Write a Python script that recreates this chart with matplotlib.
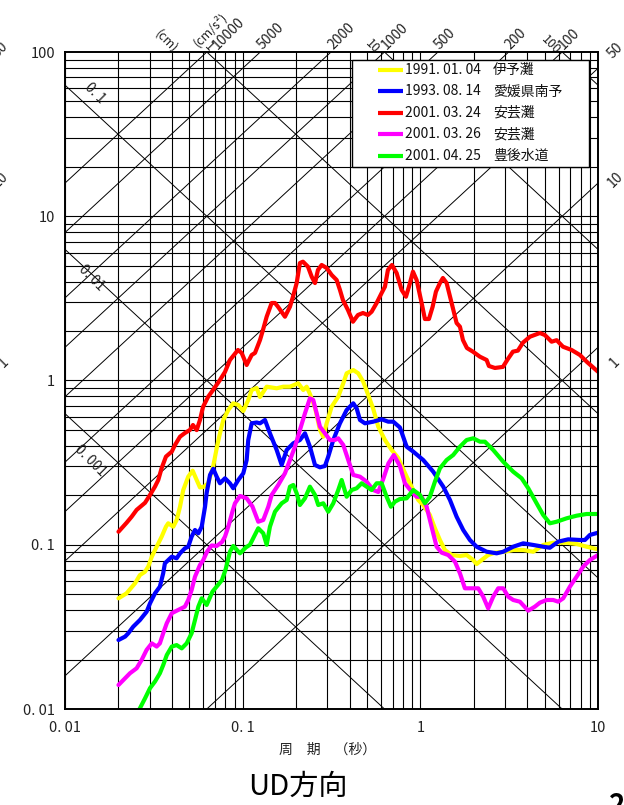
import numpy as np
import matplotlib
matplotlib.use("Agg")
import matplotlib.pyplot as plt
from matplotlib.patches import Rectangle
from matplotlib.ticker import NullLocator, FixedLocator, FixedFormatter

plt.rcParams['font.family'] = ['Noto Sans CJK JP', 'DejaVu Sans']

# ---------------------------------------------------------------
# Velocity response spectra, UD component (period [s], Sv [kine])
# ---------------------------------------------------------------
event_dates = ["1991. 01. 04", "1993. 08. 14", "2001. 03. 24", "2001. 03. 26", "2001. 04. 25"]
event_areas = ["伊予灘", "愛媛県南予", "安芸灘", "安芸灘", "豊後水道"]
event_colors = ["#ffff00", "#0000ff", "#ff0000", "#ff00ff", "#00ff00"]

period_1991 = [0.020, 0.0222, 0.0248, 0.0264, 0.0282, 0.0294, 0.0308, 0.0328, 0.0350, 0.0370,
               0.0381, 0.0407, 0.0425, 0.0444, 0.0463, 0.0494, 0.0523, 0.0551, 0.0575, 0.0606,
               0.0640, 0.0683, 0.0717, 0.0745, 0.0778, 0.0830, 0.0885, 0.0945, 0.1008, 0.1075,
               0.1124, 0.1199, 0.1252, 0.1365, 0.1554, 0.1692, 0.1846, 0.2055, 0.2193, 0.2292,
               0.2391, 0.2553, 0.2723, 0.2842, 0.297, 0.3169, 0.3451, 0.3683, 0.3848, 0.4193,
               0.4473, 0.4772, 0.509, 0.5433, 0.5798, 0.6322, 0.6895, 0.7508, 0.8375, 0.9123,
               0.9732, 1.038, 1.132, 1.208, 1.289, 1.375, 1.50, 1.671, 1.822, 1.985,
               2.074, 2.213, 2.41, 2.629, 2.993, 3.333, 3.795, 4.32, 4.915, 5.597,
               6.66, 7.58, 8.63, 10.0]
sv_1991 = [0.0472, 0.0506, 0.0583, 0.0654, 0.0685, 0.0735, 0.0846, 0.0973, 0.112, 0.1288,
           0.1351, 0.1288, 0.1415, 0.1705, 0.2154, 0.2597, 0.2824, 0.2479, 0.2232, 0.2257,
           0.2367, 0.3016, 0.3954, 0.477, 0.575, 0.6613, 0.7264, 0.7093, 0.652, 0.7608,
           0.8754, 0.9002, 0.7934, 0.917, 0.8965, 0.917, 0.917, 0.962, 0.875, 0.917,
           0.8276, 0.6848, 0.4995, 0.4548, 0.5488, 0.6926, 0.797, 0.962, 1.106, 1.158,
           1.106, 0.983, 0.816, 0.6707, 0.5232, 0.4342, 0.3775, 0.3375, 0.2597, 0.2154,
           0.1873, 0.1746, 0.1518, 0.126, 0.1069, 0.0929, 0.0866, 0.0854, 0.0866, 0.0807,
           0.0763, 0.0807, 0.0866, 0.0895, 0.0907, 0.0929, 0.0929, 0.0907, 0.0997, 0.1029,
           0.1029, 0.1011, 0.0973, 0.0938]

period_1993 = [0.020, 0.0218, 0.0227, 0.0242, 0.0264, 0.0288, 0.0301, 0.0321, 0.0342, 0.0357,
               0.0365, 0.0399, 0.0425, 0.0444, 0.0473, 0.0494, 0.0516, 0.0539, 0.0563, 0.0588,
               0.0614, 0.0627, 0.0655, 0.0683, 0.0714, 0.0745, 0.0795, 0.0848, 0.0885, 0.0945,
               0.1008, 0.1053, 0.1075, 0.1124, 0.1199, 0.1252, 0.1335, 0.1424, 0.1554, 0.1658,
               0.1769, 0.1927, 0.210, 0.2242, 0.2391, 0.2553, 0.2723, 0.2905, 0.3032, 0.3236,
               0.3528, 0.3848, 0.4193, 0.438, 0.4573, 0.4877, 0.5433, 0.6056, 0.6596, 0.704,
               0.7677, 0.8375, 0.9123, 1.038, 1.182, 1.346, 1.468, 1.60, 1.743, 1.901,
               2.074, 2.361, 2.688, 2.928, 3.333, 3.795, 4.32, 4.915, 5.36, 5.97,
               6.80, 7.91, 8.44, 9.0, 10.0]
sv_1993 = [0.0263, 0.0276, 0.0289, 0.0317, 0.0348, 0.0391, 0.0440, 0.0506, 0.0556, 0.0670,
           0.0771, 0.0846, 0.0827, 0.0887, 0.0951, 0.0973, 0.112, 0.1230, 0.1174, 0.1288,
           0.1705, 0.2066, 0.266, 0.290, 0.2597, 0.2367, 0.2539, 0.2367, 0.2207, 0.2479,
           0.2723, 0.328, 0.4342, 0.5488, 0.555, 0.5488, 0.575, 0.477, 0.3775, 0.3059,
           0.3775, 0.4147, 0.4342, 0.477, 0.3954, 0.3059, 0.2961, 0.3016, 0.344, 0.4342,
           0.5488, 0.6613, 0.7264, 0.677, 0.575, 0.5488, 0.5615, 0.5806, 0.5615, 0.5615,
           0.5175, 0.3954, 0.369, 0.328, 0.2784, 0.2257, 0.1873, 0.1482, 0.1230, 0.1069,
           0.0973, 0.0907, 0.0887, 0.0907, 0.0973, 0.1020, 0.0997, 0.0973, 0.0959, 0.1044,
           0.1079, 0.1069, 0.1069, 0.1147, 0.1184]

period_20010324 = [0.020, 0.0222, 0.0237, 0.0253, 0.0282, 0.0301, 0.0321, 0.0335, 0.0350, 0.0370,
                   0.0399, 0.0416, 0.0444, 0.0473, 0.0505, 0.0525, 0.0551, 0.0575, 0.0598, 0.0638,
                   0.0681, 0.0745, 0.0795, 0.0848, 0.0941, 0.0987, 0.1053, 0.1124, 0.1173, 0.1252,
                   0.1301, 0.1365, 0.1456, 0.152, 0.158, 0.173, 0.1846, 0.1919, 0.2014, 0.210,
                   0.2184, 0.2331, 0.2445, 0.2553, 0.2653, 0.2784, 0.297, 0.3169, 0.3381, 0.3528,
                   0.3667, 0.3913, 0.4176, 0.4455, 0.4753, 0.507, 0.532, 0.5676, 0.6056, 0.6322,
                   0.657, 0.692, 0.7355, 0.785, 0.83, 0.863, 0.909, 0.953, 1.017, 1.061,
                   1.118, 1.173, 1.224, 1.289, 1.340, 1.406, 1.50, 1.60, 1.671, 1.737,
                   1.829, 1.977, 2.165, 2.361, 2.432, 2.629, 2.916, 3.11, 3.32, 3.54,
                   3.78, 4.14, 4.71, 5.02, 5.48, 5.85, 6.35, 7.10, 7.91, 8.63, 10.0]
sv_20010324 = [0.120, 0.136, 0.148, 0.163, 0.180, 0.201, 0.226, 0.248, 0.293, 0.344,
               0.369, 0.405, 0.455, 0.479, 0.500, 0.536, 0.499, 0.575, 0.690, 0.793,
               0.875, 1.007, 1.127, 1.333, 1.534, 1.471, 1.243, 1.430, 1.471, 1.764,
               2.030, 2.446, 2.964, 2.964, 2.814, 2.446, 2.814, 3.237, 3.923, 5.19,
               5.29, 4.93, 4.29, 3.92, 4.71, 5.05, 4.84, 4.39, 4.09, 3.56,
               3.09, 2.687, 2.28, 2.505, 2.576, 2.505, 2.624, 2.964, 3.41, 3.725,
               4.71, 5.05, 4.51, 3.56, 3.237, 3.725, 4.60, 4.09, 2.964, 2.368,
               2.368, 2.814, 3.473, 3.92, 4.21, 3.92, 2.964, 2.239, 2.126, 1.764,
               1.577, 1.498, 1.396, 1.333, 1.226, 1.192, 1.21, 1.352, 1.498, 1.52,
               1.70, 1.848, 1.946, 1.892, 1.723, 1.76, 1.606, 1.534, 1.430, 1.302, 1.131]

period_20010326 = [0.020, 0.0218, 0.0232, 0.0253, 0.0270, 0.0288, 0.0308, 0.0328, 0.0342, 0.0357,
                   0.0374, 0.0399, 0.0434, 0.0473, 0.0494, 0.0516, 0.0539, 0.0575, 0.0600, 0.0630,
                   0.0669, 0.0714, 0.0765, 0.0795, 0.0830, 0.0876, 0.0905, 0.0966, 0.1053, 0.1135,
                   0.1224, 0.1306, 0.1394, 0.1456, 0.1586, 0.173, 0.1846, 0.197, 0.210, 0.2242,
                   0.2391, 0.2496, 0.2609, 0.2723, 0.2905, 0.3099, 0.3306, 0.3451, 0.3683, 0.3929,
                   0.4193, 0.4573, 0.4986, 0.5433, 0.5798, 0.6183, 0.6615, 0.710, 0.7677, 0.819,
                   0.8935, 0.953, 1.017, 1.085, 1.132, 1.182, 1.235, 1.318, 1.435, 1.566,
                   1.671, 1.782, 1.944, 2.118, 2.259, 2.41, 2.572, 2.744, 2.928, 3.124,
                   3.333, 3.634, 4.05, 4.415, 4.71, 5.137, 5.597, 5.97, 6.37, 6.95,
                   7.58, 8.25, 9.0, 10.0]
sv_20010326 = [0.0140, 0.0154, 0.0165, 0.0177, 0.0199, 0.0229, 0.0251, 0.0240, 0.0251, 0.0289,
               0.0333, 0.0383, 0.0401, 0.0420, 0.0461, 0.0530, 0.0639, 0.0753, 0.0807, 0.0907,
               0.0990, 0.0983, 0.1039, 0.112, 0.1288, 0.1594, 0.1788, 0.1981, 0.1918, 0.1710,
               0.1381, 0.1415, 0.1705, 0.201, 0.2311, 0.2723, 0.328, 0.3954, 0.4995, 0.6314,
               0.7792, 0.7608, 0.6314, 0.5232, 0.477, 0.4342, 0.4342, 0.4447, 0.405, 0.328,
               0.266, 0.2597, 0.2421, 0.2154, 0.2095, 0.2514, 0.3132, 0.3519, 0.3016, 0.2367,
               0.2104, 0.1961, 0.1961, 0.1705, 0.1415, 0.1174, 0.0973, 0.0895, 0.0866, 0.0789,
               0.0670, 0.0543, 0.0543, 0.0543, 0.0483, 0.0410, 0.0483, 0.0543, 0.0543, 0.0483,
               0.0461, 0.0450, 0.0397, 0.0420, 0.0444, 0.0461, 0.0461, 0.0450, 0.0472, 0.0556,
               0.0639, 0.0735, 0.0807, 0.0866]

period_20010425 = [0.020, 0.0264, 0.0282, 0.0301, 0.0321, 0.0342, 0.0357, 0.0374, 0.0399, 0.0425,
                   0.0454, 0.0484, 0.0516, 0.0539, 0.0563, 0.0588, 0.0627, 0.0676, 0.0726, 0.0765,
                   0.0803, 0.0848, 0.0885, 0.0966, 0.1041, 0.1099, 0.1158, 0.1224, 0.1306, 0.1365,
                   0.1424, 0.152, 0.1658, 0.1769, 0.1846, 0.1927, 0.2014, 0.210, 0.2242, 0.2391,
                   0.2553, 0.2663, 0.2842, 0.3032, 0.3236, 0.3451, 0.3607, 0.3848, 0.4106, 0.438,
                   0.4674, 0.4986, 0.532, 0.5676, 0.6056, 0.6460, 0.683, 0.7195, 0.7677, 0.8375,
                   0.9123, 0.9948, 1.061, 1.132, 1.208, 1.289, 1.406, 1.531, 1.671, 1.822,
                   1.985, 2.165, 2.309, 2.572, 2.928, 3.333, 3.716, 4.05, 4.513, 4.915,
                   5.36, 5.85, 6.66, 7.58, 8.63, 10.0]
sv_20010425 = [0.0061, 0.0101, 0.0116, 0.0134, 0.0147, 0.0165, 0.0185, 0.0213, 0.0240, 0.0245,
               0.0234, 0.0251, 0.0289, 0.0348, 0.0420, 0.0472, 0.0430, 0.0518, 0.0569, 0.0610,
               0.0712, 0.0907, 0.0983, 0.0887, 0.0962, 0.100, 0.112, 0.126, 0.1174, 0.100,
               0.1288, 0.1589, 0.1788, 0.1873, 0.2257, 0.2311, 0.2057, 0.1746, 0.1918, 0.2257,
               0.201, 0.1746, 0.1788, 0.1589, 0.1788, 0.2154, 0.2479, 0.1961, 0.2154, 0.2207,
               0.2367, 0.2257, 0.2154, 0.2367, 0.2367, 0.1961, 0.1705, 0.1829, 0.1899, 0.1918,
               0.2154, 0.201, 0.1788, 0.1961, 0.2421, 0.2921, 0.328, 0.3519, 0.3954, 0.4342,
               0.4447, 0.4241, 0.4241, 0.3775, 0.3203, 0.2784, 0.2539, 0.2207, 0.1788, 0.1518,
               0.1351, 0.1381, 0.1449, 0.1503, 0.1539, 0.1539]

periods = [period_1991, period_1993, period_20010324, period_20010326, period_20010425]
velocities = [sv_1991, sv_1993, sv_20010324, sv_20010326, sv_20010425]

# tripartite guide lines
accel_lines = [1, 10, 50, 100, 200, 500, 1000, 2000, 5000, 10000]   # cm/s^2
disp_lines = [0.001, 0.01, 0.1, 1, 10, 100]                         # cm
top_accel_labels = [10000, 5000, 2000, 1000, 500, 200, 100]
right_accel_labels = [50, 10, 1]
left_disp_labels = [0.1, 0.01, 0.001]
top_disp_labels = [1, 10, 100]

x_ticks = [0.01, 0.1, 1, 10]
x_tick_labels = ["0. 01", "0. 1", "1", "10"]
y_ticks = [0.01, 0.1, 1, 10, 100]
y_tick_labels = ["0. 01", "0. 1", "1", "10", "100"]

W, H = 624, 805
PT = 0.72  # points per pixel at 100 dpi
TWO_PI = 2 * np.pi

fig = plt.figure(figsize=(W / 100, H / 100), dpi=100)
fig.patch.set_facecolor("white")
ax = fig.add_axes([65 / W, (H - 709) / H, 533 / W, 657 / H])
ax.set_xscale("log")
ax.set_yscale("log")
ax.set_xlim(0.01, 10)
ax.set_ylim(0.01, 100)

# logarithmic grid
for dec in [0.01, 0.1, 1]:
    for m in range(1, 10):
        ax.axvline(m * dec, color="black", lw=0.8, zorder=1)
for dec in [0.01, 0.1, 1, 10]:
    for m in range(1, 10):
        ax.axhline(m * dec, color="black", lw=0.8, zorder=1)

# constant acceleration / displacement diagonals
t_span = np.array([0.01, 10.0])
for a in accel_lines:
    ax.plot(t_span, a * t_span / TWO_PI, color="black", lw=0.7, zorder=1)
for d in disp_lines:
    ax.plot(t_span, TWO_PI * d / t_span, color="black", lw=0.7, zorder=1)

lab_kw = dict(textcoords="offset points", annotation_clip=False, fontsize=10,
              color="#222222", rotation_mode="anchor")

for a in top_accel_labels:
    t = TWO_PI * 100 / a
    dx = 11 if a == 10000 else 2
    ax.annotate(f"{a}", xy=(t, 100), xytext=(dx * PT, 2 * PT), rotation=45,
                ha="left", va="baseline", **lab_kw)

right_offsets = {50: (17, 18), 10: (17, 3), 1: (17, -15)}
for a in right_accel_labels:
    dx, dy = right_offsets[a]
    ax.annotate(f"{a}", xy=(10, a * 10 / TWO_PI), xytext=(dx * PT, dy * PT), rotation=45,
                ha="center", va="center", **lab_kw)

left_offsets = {0.1: (0, 20), 0.01: (-4, -1), 0.001: (-5, -19)}
for d in left_disp_labels:
    t = 0.0148
    dx, dy = left_offsets[d]
    txt = "0. " + f"{d:.3f}".rstrip("0").split(".")[1]
    ax.annotate(txt, xy=(t, TWO_PI * d / t), xytext=(dx * PT, dy * PT), rotation=-45,
                ha="center", va="center", **lab_kw)

top_disp_offsets = {1: (2, 5), 10: (-12, 6), 100: (-11, 7)}
for d in top_disp_labels:
    t = TWO_PI * d / 100
    dx, dy = top_disp_offsets[d]
    ax.annotate(f"{d}", xy=(t, 100), xytext=(dx * PT, dy * PT), rotation=-45,
                ha="center", va="center", **dict(lab_kw, fontsize=9))

t_unit = TWO_PI * 1 / 100
ax.annotate("(cm)", xy=(t_unit, 100), xytext=(-40 * PT, 11 * PT), rotation=-45,
            ha="center", va="center", **dict(lab_kw, fontsize=9))
ax.annotate("(cm/s²)", xy=(t_unit, 100), xytext=(4 * PT, 22 * PT), rotation=45,
            ha="center", va="center", **dict(lab_kw, fontsize=9))

# response spectra
for t, sv, c in zip(periods, velocities, event_colors):
    ax.plot(t, sv, color=c, lw=3.0, solid_joinstyle="round", solid_capstyle="round", zorder=3)

# axes styling
ax.xaxis.set_major_locator(FixedLocator(x_ticks))
ax.xaxis.set_major_formatter(FixedFormatter(x_tick_labels))
ax.yaxis.set_major_locator(FixedLocator(y_ticks))
ax.yaxis.set_major_formatter(FixedFormatter(y_tick_labels))
ax.xaxis.set_minor_locator(NullLocator())
ax.yaxis.set_minor_locator(NullLocator())
ax.tick_params(axis="x", length=0, pad=12 * PT, labelsize=10.5, colors="#222222")
ax.tick_params(axis="y", length=0, pad=10 * PT, labelsize=10.5, colors="#222222")
for sp in ax.spines.values():
    sp.set_linewidth(1.4)
    sp.set_color("black")
    sp.set_zorder(4)

# legend box
x0, x1 = (352 - 65) / 533, (589 - 65) / 533
y0, y1 = (709 - 167) / 657, (709 - 60) / 657
ax.add_patch(Rectangle((x0, y0), x1 - x0, y1 - y0, transform=ax.transAxes,
                       facecolor="white", edgecolor="black", lw=1.0, zorder=5))
row0 = (709 - 70) / 657
row_step = 21.4 / 657
for i, (dt, area, c) in enumerate(zip(event_dates, event_areas, event_colors)):
    yy = row0 - i * row_step
    ax.plot([(378 - 65) / 533, (403 - 65) / 533], [yy, yy], transform=ax.transAxes,
            color=c, lw=3.0, zorder=6, solid_capstyle="butt")
    ax.text((405 - 65) / 533, yy, dt, transform=ax.transAxes, ha="left", va="center",
            fontsize=10, color="#111111", zorder=6)
    ax.text((493 - 65) / 533, yy, area, transform=ax.transAxes, ha="left", va="center",
            fontsize=10, color="#111111", zorder=6)

# axis caption and title
fig.text(328 / W, 1 - 750 / H, "周　期　（秒）", ha="center", va="center", fontsize=10, color="#222222")
fig.text(298 / W, 1 - 787 / H, "UD方向", ha="center", va="center", fontsize=21, color="black")

# edge labels of neighbouring panels
for txt, xp, yp in [("50", 0, 50), ("10", 0, 180), ("1", 4, 362)]:
    fig.text(xp / W, 1 - yp / H, txt, rotation=45, ha="center", va="center",
             fontsize=10, color="#222222")
fig.text(617 / W, 1 - 792 / H, "2", ha="center", va="top", fontsize=20, fontweight="bold")

fig.savefig("out.png", dpi=100, facecolor="white")
